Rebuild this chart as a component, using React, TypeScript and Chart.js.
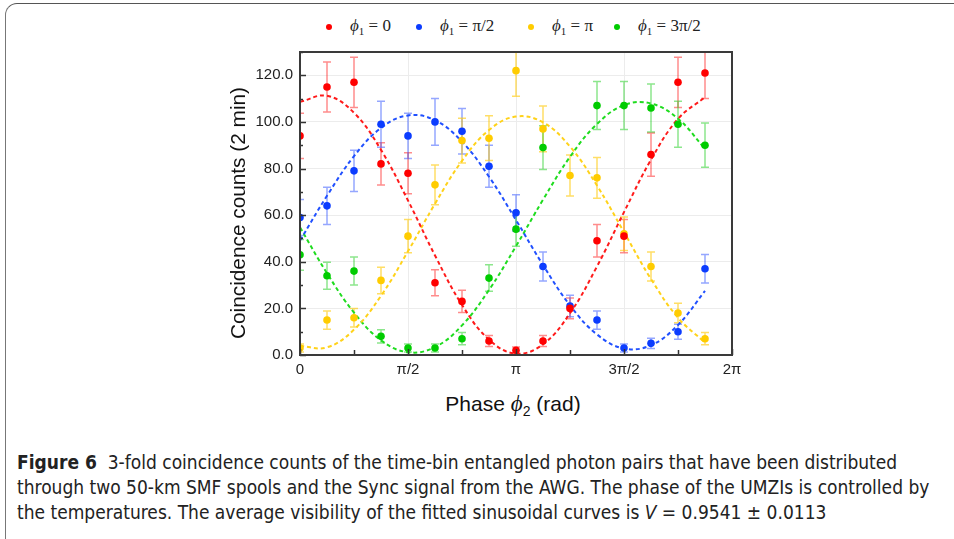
import React, { useEffect, useRef } from "react";
import { Chart, registerables } from "chart.js";
Chart.register(...registerables);

// phase φ2 in units of π/8
const phaseEighths = [0, 1, 2, 3, 4, 5, 6, 7, 8, 9, 10, 11, 12, 13, 14, 15];
const xTickLabels = ["0", "π/2", "π", "3π/2", "2π"];
const yTickValues = [0, 20, 40, 60, 80, 100, 120];

// measured coincidence counts
const redCounts = [94, 115, 117, 82, 78, 31, 23, 6, 2, 6, 20, 49, 51, 86, 117, 121];
const redErr = [9.7, 10.7, 10.8, 9.1, 8.8, 5.6, 4.8, 2.4, 1.4, 2.4, 4.5, 7.0, 7.1, 9.3, 10.8, 11.0];
const blueCounts = [59, 64, 79, 99, 94, 100, 96, 81, 61, 38, 21, 15, 3, 5, 10, 37];
const blueErr = [7.7, 8.0, 8.9, 9.9, 9.7, 10, 9.8, 9.0, 7.8, 6.2, 4.6, 3.9, 1.7, 2.2, 3.2, 6.1];
const yellowCounts = [3, 15, 16, 32, 51, 73, 92, 93, 122, 97, 77, 76, 52, 38, 18, 7];
const yellowErr = [1.7, 3.9, 4, 5.7, 7.1, 8.5, 9.6, 9.6, 11, 9.8, 8.8, 8.7, 7.2, 6.2, 4.2, 2.6];
const greenCounts = [43, 34, 36, 8, 3, 3, 7, 33, 54, 89, null, 107, 107, 106, 99, 90];
const greenErr = [6.6, 5.8, 6, 2.8, 1.7, 1.7, 2.6, 5.7, 7.3, 9.4, null, 10.3, 10.3, 10.3, 9.9, 9.5];

// fitted sinusoidal curves (at the same phases)
const redFit = [108.6, 111.2, 103.9, 88.0, 66.3, 42.7, 21.5, 6.6, 0.6, 4.6, 17.9, 38.0, 61.3, 83.8, 101.3, 110.6];
const blueFit = [49.1, 68.3, 85.3, 97.4, 102.8, 100.7, 91.5, 76.5, 57.9, 38.6, 21.3, 8.8, 2.8, 4.2, 12.9, 27.5];
const yellowFit = [3.9, 3.3, 10.9, 25.4, 44.5, 64.9, 83.3, 96.5, 102.3, 99.8, 89.4, 72.7, 52.7, 32.6, 16.0, 5.3];
const greenFit = [54.8, 35.1, 18.2, 6.3, 1.2, 3.4, 12.7, 27.9, 46.7, 66.6, 85.0, 99.1, 107.2, 107.9, 101.4, 88.4];

const seriesNames = ["0", "π/2", "π", "3π/2"];
const pointColors = ["#ff0000", "#0b3cff", "#ffcc00", "#00cc00"];
const lineColors = ["#ff1a1a", "#2050ff", "#ffd21a", "#1fdc1f"];
const errColors = ["rgba(255,0,0,0.45)", "rgba(20,60,255,0.45)", "rgba(255,200,0,0.6)", "rgba(0,200,0,0.45)"];

const toX = (k: number) => (k * Math.PI) / 8;

const errorBarPlugin = {
  id: "errorBars",
  beforeDatasetsDraw(chart: any) {
    const { ctx, chartArea, scales } = chart;
    ctx.save();
    ctx.beginPath();
    ctx.rect(chartArea.left, chartArea.top, chartArea.right - chartArea.left, chartArea.bottom - chartArea.top);
    ctx.clip();
    chart.data.datasets.forEach((ds: any) => {
      if (!ds.errors) return;
      ctx.strokeStyle = ds.errColor;
      ctx.lineWidth = 1.5;
      ds.data.forEach((p: any, i: number) => {
        const e = ds.errors[i];
        if (e == null) return;
        const x = scales.x.getPixelForValue(p.x);
        const y1 = scales.y.getPixelForValue(p.y + e);
        const y2 = scales.y.getPixelForValue(p.y - e);
        ctx.beginPath();
        ctx.moveTo(x, y1);
        ctx.lineTo(x, y2);
        ctx.moveTo(x - 4, y1);
        ctx.lineTo(x + 4, y1);
        ctx.moveTo(x - 4, y2);
        ctx.lineTo(x + 4, y2);
        ctx.stroke();
      });
    });
    ctx.restore();
  },
};

const framePlugin = {
  id: "frame",
  afterDraw(chart: any) {
    const { ctx, chartArea, scales } = chart;
    const { left, right, top, bottom } = chartArea;
    ctx.save();
    ctx.strokeStyle = "#333";
    ctx.lineWidth = 1.5;
    for (let v = 0; v <= 130; v += 10) {
      const y = Math.round(scales.y.getPixelForValue(v)) + 0.5;
      const len = v % 20 === 0 ? 6 : 3;
      ctx.beginPath();
      ctx.moveTo(left, y);
      ctx.lineTo(left + len, y);
      ctx.stroke();
    }
    for (let k = 0; k <= 8; k++) {
      const x = Math.round(scales.x.getPixelForValue((k * Math.PI) / 4)) + 0.5;
      const len = k % 2 === 0 ? 6 : 5;
      ctx.beginPath();
      ctx.moveTo(x, bottom);
      ctx.lineTo(x, bottom - len);
      ctx.stroke();
    }
    ctx.lineWidth = 2;
    ctx.strokeStyle = "#3a3a3a";
    ctx.strokeRect(left, top, right - left, bottom - top);
    ctx.restore();
  },
};

function ChartBox() {
  const ref = useRef<HTMLCanvasElement | null>(null);
  useEffect(() => {
    if (!ref.current) return;
    const counts = [redCounts, blueCounts, yellowCounts, greenCounts];
    const errs = [redErr, blueErr, yellowErr, greenErr];
    const fits = [redFit, blueFit, yellowFit, greenFit];
    const pointSets = counts.map((c, s) => {
      const data: any[] = [];
      const e: any[] = [];
      c.forEach((v, i) => {
        if (v == null) return;
        data.push({ x: toX(phaseEighths[i]), y: v });
        e.push(errs[s][i]);
      });
      return {
        label: "ϕ1 = " + seriesNames[s],
        data,
        errors: e,
        errColor: errColors[s],
        showLine: false,
        pointRadius: 3.8,
        pointBackgroundColor: pointColors[s],
        pointBorderColor: pointColors[s],
        pointBorderWidth: 0,
        order: 0,
      };
    });
    const fitSets = fits.map((f, s) => ({
      label: "fit " + seriesNames[s],
      data: f.map((v, i) => ({ x: toX(phaseEighths[i]), y: v })),
      showLine: true,
      borderColor: lineColors[s],
      borderWidth: 2,
      borderDash: [4, 3],
      tension: 0.4,
      pointRadius: 0,
      order: 1,
    }));
    const chart = new Chart(ref.current, {
      type: "scatter",
      data: { datasets: [...pointSets, ...fitSets] as any },
      options: {
        animation: false,
        responsive: false,
        devicePixelRatio: 1,
        layout: { padding: { left: 0, right: 28, top: 11, bottom: 0 } },
        plugins: { legend: { display: false }, tooltip: { enabled: false } },
        scales: {
          x: {
            type: "linear",
            min: 0,
            max: 2 * Math.PI,
            afterBuildTicks: (scale: any) => {
              scale.ticks = xTickLabels.map((_, i) => ({ value: (i * Math.PI) / 2 }));
            },
            afterFit: (scale: any) => {
              scale.height = 30;
            },
            ticks: {
              callback: (_v: any, i: number) => xTickLabels[i],
              font: { family: "'Liberation Sans', Arial, sans-serif", size: 15 },
              color: "#222",
              padding: 6,
              maxRotation: 0,
            },
            grid: { color: "#ececec", drawTicks: false },
            border: { display: false },
          },
          y: {
            type: "linear",
            min: 0,
            max: 130,
            afterBuildTicks: (scale: any) => {
              scale.ticks = yTickValues.map((v) => ({ value: v }));
            },
            afterFit: (scale: any) => {
              scale.width = 80;
            },
            ticks: {
              callback: (v: any) => Number(v).toFixed(1),
              font: { family: "'Liberation Sans', Arial, sans-serif", size: 15 },
              color: "#222",
              padding: 7,
            },
            grid: { color: "#ececec", drawTicks: false },
            border: { display: false },
          },
        },
      },
      plugins: [errorBarPlugin, framePlugin],
    });
    return () => chart.destroy();
  }, []);
  return (
    <canvas
      ref={ref}
      width={540}
      height={349}
      style={{ position: "absolute", left: 220, top: 36, width: 540, height: 349 }}
    />
  );
}

const legendItems = [
  { color: "#ff0000", dotX: 329, textX: 350, value: "0" },
  { color: "#0b3cff", dotX: 419, textX: 440, value: "π/2" },
  { color: "#ffcc00", dotX: 531, textX: 552, value: "π" },
  { color: "#00cc00", dotX: 617, textX: 638, value: "3π/2" },
];

const captionLines = [
  "3-fold coincidence counts of the time-bin entangled photon pairs that have been distributed",
  "through two 50-km SMF spools and the Sync signal from the AWG. The phase of the UMZIs is controlled by",
  "the temperatures. The average visibility of the fitted sinusoidal curves is ",
];

export default function App() {
  const serif = "'Liberation Serif', 'DejaVu Serif', serif";
  const sans = "'Liberation Sans', Arial, sans-serif";
  const capFont = "'Liberation Sans Narrow', 'DejaVu Sans Condensed', 'Open Sans', sans-serif";
  return (
    <div style={{ position: "absolute", left: 0, top: 0, width: 954, height: 539, overflow: "hidden", background: "#fff" }}>
      <div
        style={{
          position: "absolute",
          left: 5,
          top: 3,
          width: 1000,
          height: 560,
          borderLeft: "1.5px solid #777",
          borderTop: "1.5px solid #555",
          borderTopLeftRadius: 12,
          borderBottomLeftRadius: 12,
        }}
      />
      {legendItems.map((it, i) => (
        <React.Fragment key={i}>
          <div
            style={{
              position: "absolute",
              left: it.dotX - 3,
              top: 24,
              width: 6,
              height: 6,
              borderRadius: 3,
              background: it.color,
            }}
          />
          <div
            style={{
              position: "absolute",
              left: it.textX,
              top: 16,
              fontFamily: serif,
              fontSize: 17,
              color: "#222",
              whiteSpace: "nowrap",
              lineHeight: "20px",
            }}
          >
            <i>ϕ</i>
            <sub style={{ fontSize: 11 }}>1</sub> = {it.value}
          </div>
        </React.Fragment>
      ))}
      <ChartBox />
      <div
        style={{
          position: "absolute",
          left: 238,
          top: 213,
          transform: "translate(-50%, -50%) rotate(-90deg)",
          fontFamily: sans,
          fontSize: 20.8,
          color: "#111",
          whiteSpace: "nowrap",
        }}
      >
        Coincidence counts (2 min)
      </div>
      <div
        style={{
          position: "absolute",
          left: 513,
          top: 405,
          transform: "translate(-50%, -50%)",
          fontFamily: sans,
          fontSize: 21,
          color: "#111",
          whiteSpace: "nowrap",
        }}
      >
        Phase <i style={{ fontFamily: serif, fontSize: 23 }}>ϕ</i>
        <sub style={{ fontSize: 14 }}>2</sub> (rad)
      </div>
      <div style={{ position: "absolute", left: 17, top: 450, fontFamily: capFont, fontSize: 19, color: "#222", lineHeight: "25px" }}>
        <div style={{ whiteSpace: "nowrap" }}>
          <b>Figure 6</b>&nbsp;&nbsp;{captionLines[0]}
        </div>
        <div style={{ whiteSpace: "nowrap" }}>{captionLines[1]}</div>
        <div style={{ whiteSpace: "nowrap" }}>
          {captionLines[2]}
          <i>V</i> = 0.9541 ± 0.0113
        </div>
      </div>
    </div>
  );
}
